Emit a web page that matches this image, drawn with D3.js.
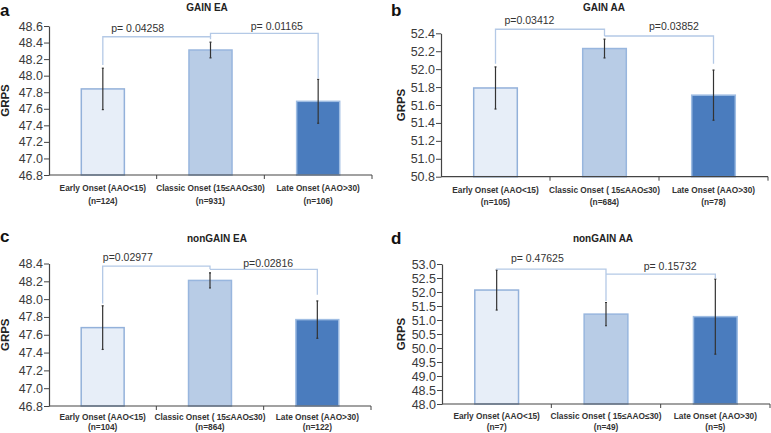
<!DOCTYPE html>
<html>
<head>
<meta charset="utf-8">
<script src="https://cdn.jsdelivr.net/npm/d3@7"></script>
<style>
  html, body { margin: 0; padding: 0; background: #fff; }
  svg { display: block; font-family: "Liberation Sans", Arial, sans-serif; }
</style>
</head>
<body>
<svg id="chart" width="771" height="433"></svg>
<script>
// ---------------- DATA ----------------
const panelLetters = ["a", "b", "c", "d"];
const panelTitles = ["GAIN EA", "GAIN AA", "nonGAIN EA", "nonGAIN AA"];
const yAxisLabel = "GRPS";

const categoriesA = ["Early Onset (AAO<15)", "Classic Onset (15≤AAO≤30)", "Late Onset (AAO>30)"];
const categoriesB = ["Early Onset (AAO<15)", "Classic Onset ( 15≤AAO≤30)", "Late Onset (AAO>30)"];
const categoriesC = ["Early Onset (AAO<15)", "Classic Onset ( 15≤AAO≤30)", "Late Onset (AAO>30)"];
const categoriesD = ["Early Onset (AAO<15)", "Classic Onset ( 15≤AAO≤30)", "Late Onset (AAO>30)"];

const countsA = ["(n=124)", "(n=931)", "(n=106)"];
const countsB = ["(n=105)", "(n=684)", "(n=78)"];
const countsC = ["(n=104)", "(n=864)", "(n=122)"];
const countsD = ["(n=7)", "(n=49)", "(n=5)"];

const meansA = [47.84, 48.31, 47.69];
const meansB = [51.79, 52.23, 51.71];
const meansC = [47.68, 48.21, 47.77];
const meansD = [52.07, 51.21, 51.12];

const errorsA = [0.25, 0.095, 0.265];
const errorsB = [0.235, 0.105, 0.28];
const errorsC = [0.245, 0.085, 0.21];
const errorsD = [0.715, 0.415, 1.34];

const yDomainA = [46.8, 48.6];
const yDomainB = [50.8, 52.4];
const yDomainC = [46.8, 48.4];
const yDomainD = [48.0, 53.0];

const yTicksA = [46.8, 47.0, 47.2, 47.4, 47.6, 47.8, 48.0, 48.2, 48.4, 48.6];
const yTicksB = [50.8, 51.0, 51.2, 51.4, 51.6, 51.8, 52.0, 52.2, 52.4];
const yTicksC = [46.8, 47.0, 47.2, 47.4, 47.6, 47.8, 48.0, 48.2, 48.4];
const yTicksD = [48.0, 48.5, 49.0, 49.5, 50.0, 50.5, 51.0, 51.5, 52.0, 52.5, 53.0];

// p-value brackets: [fromCategory, fromValue, levelValue, toCategory, toValue]
const pLabelsA = ["p= 0.04258", "p= 0.01165"];
const pLabelsB = ["p=0.03412", "p=0.03852"];
const pLabelsC = ["p=0.02977", "p=0.02816"];
const pLabelsD = ["p= 0.47625", "p= 0.15732"];

const bracketsA = [[0, 48.13, 48.47, 1, 48.44], [1, 48.47, 48.51, 2, 47.97]];
const bracketsB = [[0, 52.06, 52.445, 1, 52.37], [1, 52.37, 52.37, 2, 52.06]];
const bracketsC = [[0, 47.95, 48.37, 1, 48.335], [1, 48.335, 48.335, 2, 48.05]];
const bracketsD = [[0, 52.80, 52.82, 1, 51.68], [1, 52.64, 52.64, 2, 52.48]];

// ---------------- LAYOUT ----------------
const layouts = [
  { left: 49,  right: 372, top: 26,    bottom: 175,   letterX: 0,   letterY: 15.5, titleX: 207, titleY: 11,  labelX: 9,   catDy: [16, 28.5],
    pDx: [-19, 12.5], pDy: [-4.6, -3.5] },
  { left: 441, right: 768, top: 33.3,  bottom: 176.7, letterX: 391, letterY: 15.5, titleX: 604, titleY: 11,  labelX: 405, catDy: [16, 28.5],
    pDx: [-20.5, 15], pDy: [-5.5, -5.5] },
  { left: 49,  right: 371, top: 263.5, bottom: 406,   letterX: 0,   letterY: 242, titleX: 217, titleY: 242, labelX: 9,   catDy: [13.5, 24],
    pDx: [-28.5, 4.5], pDy: [-5.5, -2.2] },
  { left: 442, right: 770, top: 264,   bottom: 404,   letterX: 391, letterY: 244, titleX: 603, titleY: 242, labelX: 405, catDy: [14.5, 25.5],
    pDx: [-14, 9.5], pDy: [-7.5, -4.5] }
];

const panels = [
  { cats: categoriesA, ns: countsA, means: meansA, errs: errorsA, dom: yDomainA, ticks: yTicksA, pl: pLabelsA, br: bracketsA },
  { cats: categoriesB, ns: countsB, means: meansB, errs: errorsB, dom: yDomainB, ticks: yTicksB, pl: pLabelsB, br: bracketsB },
  { cats: categoriesC, ns: countsC, means: meansC, errs: errorsC, dom: yDomainC, ticks: yTicksC, pl: pLabelsC, br: bracketsC },
  { cats: categoriesD, ns: countsD, means: meansD, errs: errorsD, dom: yDomainD, ticks: yTicksD, pl: pLabelsD, br: bracketsD }
];

const barFills = ["#e7eef8", "#b8cce6", "#4a7cbe"];
const barStrokes = ["#93b1da", "#98b6de", "#9fbde3"];
const bracketColor = "#b4c9e6";

const svg = d3.select("#chart");

panels.forEach((p, i) => {
  const L = layouts[i];
  const g = svg.append("g");

  const x = d3.scaleBand().domain(d3.range(p.cats.length))
    .range([L.left, L.right]).paddingInner(0.6).paddingOuter(0.3);
  const step = x.step();
  const y = d3.scaleLinear().domain(p.dom).range([L.bottom, L.top]);

  // panel letter
  g.append("text").attr("x", L.letterX).attr("y", L.letterY)
    .attr("font-size", 17).attr("font-weight", "bold").attr("fill", "#111")
    .text(panelLetters[i]);

  // title
  g.append("text").attr("x", L.titleX).attr("y", L.titleY)
    .attr("text-anchor", "middle").attr("font-size", 10).attr("font-weight", "bold")
    .attr("fill", "#222").text(panelTitles[i]);

  // bars
  g.selectAll("rect.bar").data(p.means).join("rect")
    .attr("class", "bar")
    .attr("x", (d, k) => x(k))
    .attr("width", x.bandwidth())
    .attr("y", d => y(d))
    .attr("height", d => y(p.dom[0]) - y(d))
    .attr("fill", (d, k) => barFills[k])
    .attr("stroke", (d, k) => barStrokes[k])
    .attr("stroke-width", 1.5);

  // error bars
  g.selectAll("line.err").data(p.means).join("line")
    .attr("class", "err")
    .attr("x1", (d, k) => x(k) + x.bandwidth() / 2)
    .attr("x2", (d, k) => x(k) + x.bandwidth() / 2)
    .attr("y1", (d, k) => y(d + p.errs[k]))
    .attr("y2", (d, k) => y(d - p.errs[k]))
    .attr("stroke", "#333").attr("stroke-width", 1.2);
  g.selectAll("g.cap").data(p.means).join("g").attr("class", "cap").each(function (d, k) {
    const cx = x(k) + x.bandwidth() / 2;
    [d + p.errs[k], d - p.errs[k]].forEach(v => {
      d3.select(this).append("line")
        .attr("x1", cx - 1).attr("x2", cx + 1)
        .attr("y1", y(v)).attr("y2", y(v))
        .attr("stroke", "#333").attr("stroke-width", 1.2);
    });
  });

  // brackets
  p.br.forEach((b, j) => {
    const x1 = x(b[0]) + x.bandwidth() / 2;
    const x2 = x(b[3]) + x.bandwidth() / 2;
    const path = d3.path();
    path.moveTo(x1, y(b[1]));
    path.lineTo(x1, y(b[2]));
    path.lineTo(x2, y(b[2]));
    path.lineTo(x2, y(b[4]));
    g.append("path").attr("d", path.toString())
      .attr("fill", "none").attr("stroke", bracketColor).attr("stroke-width", 1.3);
    g.append("text")
      .attr("x", (x1 + x2) / 2 + L.pDx[j])
      .attr("y", y(b[2]) + L.pDy[j])
      .attr("text-anchor", "middle").attr("font-size", 10.5).attr("fill", "#333")
      .text(p.pl[j]);
  });

  // y axis
  const yAxis = d3.axisLeft(y).tickValues(p.ticks).tickFormat(d3.format(".1f")).tickSize(5).tickSizeOuter(0);
  const ya = g.append("g").attr("transform", `translate(${L.left},0)`).call(yAxis);
  ya.select(".domain").attr("stroke", "#444").attr("stroke-width", 1.2);
  ya.selectAll(".tick line").attr("stroke", "#444");
  ya.selectAll(".tick text").attr("font-size", 12.5).attr("fill", "#3a3a3a")
    .attr("font-family", "'Liberation Sans', Arial, sans-serif").attr("x", -6);

  // x axis line + boundary ticks
  g.append("line").attr("x1", L.left).attr("x2", L.right)
    .attr("y1", y(p.dom[0])).attr("y2", y(p.dom[0]))
    .attr("stroke", "#444").attr("stroke-width", 1.2);
  g.selectAll("line.xt").data(d3.range(1, p.cats.length + 1)).join("line")
    .attr("class", "xt")
    .attr("x1", k => L.left + k * step).attr("x2", k => L.left + k * step)
    .attr("y1", y(p.dom[0])).attr("y2", y(p.dom[0]) + 4)
    .attr("stroke", "#444").attr("stroke-width", 1);

  // category labels
  p.cats.forEach((c, k) => {
    const cx = x(k) + x.bandwidth() / 2;
    const t = g.append("text").attr("text-anchor", "middle")
      .attr("font-size", 8.3).attr("font-weight", "bold").attr("fill", "#333");
    t.append("tspan").attr("x", cx).attr("y", y(p.dom[0]) + L.catDy[0]).text(c);
    t.append("tspan").attr("x", cx).attr("y", y(p.dom[0]) + L.catDy[1]).text(p.ns[k]);
  });

  // y label
  g.append("text")
    .attr("transform", `translate(${L.labelX},${(L.top + L.bottom) / 2}) rotate(-90)`)
    .attr("text-anchor", "middle").attr("font-size", 11.5).attr("font-weight", "bold")
    .attr("fill", "#222").text(yAxisLabel);
});
</script>
</body>
</html>
